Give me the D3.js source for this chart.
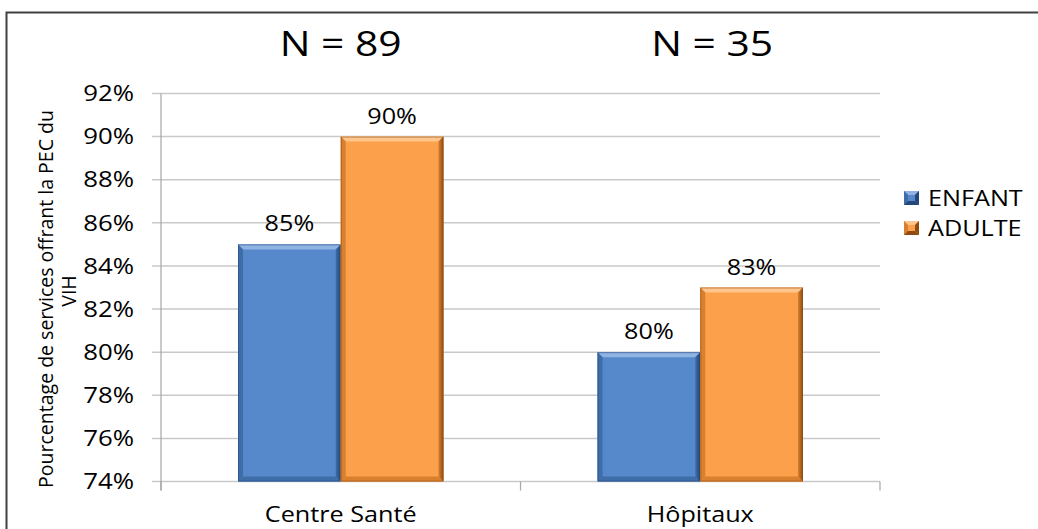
<!DOCTYPE html>
<html>
<head>
<meta charset="utf-8">
<script src="https://cdn.jsdelivr.net/npm/d3@7/dist/d3.min.js"></script>
<style>
  html, body { margin: 0; padding: 0; background: #fff; }
  svg { display: block; }
  text { font-family: "Open Sans", "DejaVu Sans", sans-serif; fill: #000; }
</style>
</head>
<body>
<svg id="chart" width="1038" height="529"></svg>
<script>
// Services offering HIV care (PEC du VIH), by facility type and patient group
const categories = ["Centre Santé", "Hôpitaux"];
const seriesNames = ["ENFANT", "ADULTE"];
const enfantValues = [85, 80];
const adulteValues = [90, 83];
const sampleSizes = [89, 35];
const yTickValues = [74, 76, 78, 80, 82, 84, 86, 88, 90, 92];

const seriesValues = [enfantValues, adulteValues];

// Layout
const plot = { left: 161, right: 880, top: 93.5, bottom: 481.5 };
const stretch = 1.2;            // horizontal text widening
const titleShift = [0, 12];     // nudges for the "N =" headings
const bevel = 5;

const palette = {
  ENFANT: { face: "#5689CB", light: "#8FB4E3", edge: "#3F6DA8", dark: "#24467A" },
  ADULTE: { face: "#FDA04B", light: "#FFC58C", edge: "#D9802F", dark: "#8E4C12" }
};

const svg = d3.select("#chart");
const defs = svg.append("defs");

// Gradients for the shaded right side of each bar
seriesNames.forEach(name => {
  const c = palette[name];
  const g = defs.append("linearGradient").attr("id", "side-" + name)
    .attr("x1", "0").attr("x2", "1").attr("y1", "0").attr("y2", "0");
  g.append("stop").attr("offset", "0").attr("stop-color", c.edge);
  g.append("stop").attr("offset", "1").attr("stop-color", c.dark);
});

const x = d3.scaleBand().domain(categories).range([plot.left, plot.right]).padding(0);
const xs = d3.scaleBand().domain(seriesNames).range([0, x.bandwidth()])
  .paddingInner(0).paddingOuter(0.75);
const y = d3.scaleLinear().domain([74, 92]).range([plot.bottom, plot.top]);

// Outer frame (right and bottom sides fall outside the view)
svg.append("rect")
  .attr("x", 6.5).attr("y", 12.5).attr("width", 1100).attr("height", 600)
  .attr("fill", "none").attr("stroke", "#404040").attr("stroke-width", 2);

// Gridlines
svg.append("g").selectAll("line").data(yTickValues).join("line")
  .attr("x1", plot.left - 9).attr("x2", plot.right)
  .attr("y1", d => y(d)).attr("y2", d => y(d))
  .attr("stroke", "#c9c9c9").attr("stroke-width", 1.5);

// Vertical axis line
svg.append("line")
  .attr("x1", plot.left).attr("x2", plot.left)
  .attr("y1", y(92)).attr("y2", plot.bottom + 9)
  .attr("stroke", "#a6a6a6").attr("stroke-width", 1.2);

// Category tick marks along the base
const catEdges = categories.map(c => x(c)).concat([x(categories[categories.length - 1]) + x.bandwidth()]);
svg.append("g").selectAll("line").data(catEdges).join("line")
  .attr("x1", d => d).attr("x2", d => d)
  .attr("y1", plot.bottom).attr("y2", plot.bottom + 9)
  .attr("stroke", "#a6a6a6").attr("stroke-width", 1.2);

// Helper: widened text anchored at (px, py)
function label(parent, px, py, str, size, anchor) {
  return parent.append("text")
    .attr("transform", `translate(${px},${py}) scale(${stretch},1)`)
    .attr("text-anchor", anchor)
    .style("font-size", size + "px")
    .text(str);
}

// Y tick labels
yTickValues.forEach(v => {
  label(svg, 134, y(v), v + "%", 21.5, "end").attr("dy", "0.36em");
});

// Y axis title (two lines)
svg.append("text")
  .attr("transform", "translate(53,299) rotate(-90)")
  .attr("text-anchor", "middle")
  .style("font-size", "19.5px")
  .text("Pourcentage de services offrant la PEC du");
svg.append("text")
  .attr("transform", "translate(76,291) rotate(-90)")
  .attr("text-anchor", "middle")
  .style("font-size", "19.5px")
  .text("VIH");

// Beveled bars
function bevelBar(g, x0, x1, y0, y1, name) {
  const c = palette[name];
  const b = Math.min(bevel, (y1 - y0) / 2);
  g.append("rect").attr("x", x0).attr("y", y0)
    .attr("width", x1 - x0).attr("height", y1 - y0).attr("fill", c.face);
  const poly = (pts, fill) => g.append("polygon")
    .attr("points", pts.map(p => p.join(",")).join(" ")).attr("fill", fill);
  poly([[x0, y0], [x1, y0], [x1 - b, y0 + b], [x0 + b, y0 + b]], c.light);
  poly([[x0, y0], [x0 + b, y0 + b], [x0 + b, y1 - b], [x0, y1]], c.edge);
  poly([[x0, y1], [x0 + b, y1 - b], [x1 - b, y1 - b], [x1, y1]], c.edge);
  poly([[x1, y0], [x1, y1], [x1 - b, y1 - b], [x1 - b, y0 + b]], `url(#side-${name})`);
  g.append("rect").attr("x", x0 + 0.5).attr("y", y0 + 0.5)
    .attr("width", x1 - x0 - 1).attr("height", y1 - y0 - 1)
    .attr("fill", "none").attr("stroke", c.dark).attr("stroke-opacity", 0.55).attr("stroke-width", 1);
}

const barsG = svg.append("g");
const labelsG = svg.append("g");
categories.forEach((cat, ci) => {
  seriesNames.forEach((name, si) => {
    const v = seriesValues[si][ci];
    const x0 = x(cat) + xs(name);
    const x1 = x0 + xs.bandwidth();
    bevelBar(barsG, x0, x1, y(v), y(74), name);
    label(labelsG, (x0 + x1) / 2, y(v) - 13, v + "%", 21, "middle");
  });
  // Category label
  label(svg, x(cat) + x.bandwidth() / 2, 522, cat, 21, "middle");
  // Sample size heading
  label(svg, x(cat) + x.bandwidth() / 2 + titleShift[ci], 56, "N = " + sampleSizes[ci], 34, "middle");
});

// Legend
const legendRows = [198, 228];
seriesNames.forEach((name, i) => {
  const g = svg.append("g");
  const cy = legendRows[i];
  const c = palette[name];
  const x0 = 904, x1 = 919, y0 = cy - 7, y1 = cy + 7;
  const poly = (pts, fill) => g.append("polygon")
    .attr("points", pts.map(p => p.join(",")).join(" ")).attr("fill", fill);
  g.append("rect").attr("x", x0).attr("y", y0).attr("width", x1 - x0).attr("height", y1 - y0).attr("fill", c.face);
  poly([[x0, y0], [x1, y0], [x1 - 4, y0 + 4], [x0 + 4, y0 + 4]], c.light);
  poly([[x0, y0], [x0 + 4, y0 + 4], [x0 + 4, y1 - 4], [x0, y1]], c.edge);
  poly([[x1, y0], [x1, y1], [x1 - 4, y1 - 4], [x1 - 4, y0 + 4]], c.dark);
  poly([[x0, y1], [x0 + 4, y1 - 4], [x1 - 4, y1 - 4], [x1, y1]], c.dark);
  label(g, 928, cy, name, 21, "start").attr("dy", "0.36em");
});
</script>
</body>
</html>
